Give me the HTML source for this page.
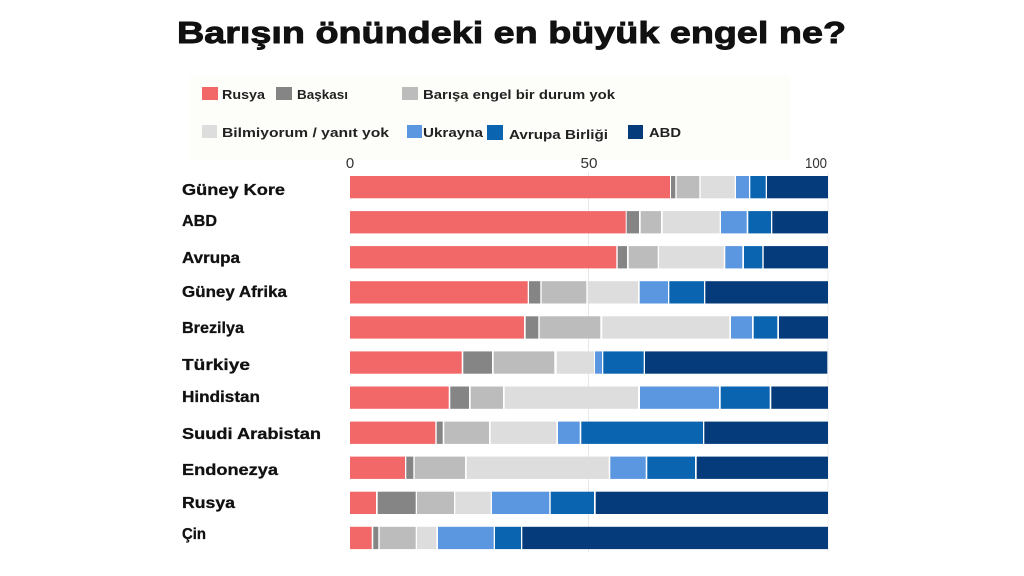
<!DOCTYPE html>
<html><head><meta charset="utf-8"><style>
html,body{margin:0;padding:0;background:#fff;}
svg{display:block;}
text{font-family:"Liberation Sans",sans-serif;}
</style></head><body>
<svg width="1024" height="576" viewBox="0 0 1024 576" xmlns="http://www.w3.org/2000/svg">
<rect width="1024" height="576" fill="#fff"/>
<rect x="190" y="76" width="600" height="84" fill="#fdfdfa"/>
<text x="177" y="43" font-size="31" font-weight="bold" fill="#111" stroke="#111" stroke-width="0.9" textLength="669" lengthAdjust="spacingAndGlyphs">Barışın önündeki en büyük engel ne?</text>
<!-- legend -->
<g font-size="13" font-weight="bold" fill="#222">
<rect x="202" y="87" width="16" height="13" fill="#f26868"/><text x="222" y="99" textLength="43" lengthAdjust="spacingAndGlyphs">Rusya</text>
<rect x="276" y="87" width="16" height="13" fill="#858585"/><text x="297" y="99" textLength="51" lengthAdjust="spacingAndGlyphs">Başkası</text>
<rect x="402" y="87" width="16" height="13" fill="#bcbcbc"/><text x="423" y="99" textLength="192" lengthAdjust="spacingAndGlyphs">Barışa engel bir durum yok</text>
<rect x="202" y="125" width="15" height="13" fill="#dddddd"/><text x="222" y="137" textLength="167" lengthAdjust="spacingAndGlyphs">Bilmiyorum / yanıt yok</text>
<rect x="407" y="125" width="15" height="13" fill="#5b97e1"/><text x="423" y="137" textLength="60" lengthAdjust="spacingAndGlyphs">Ukrayna</text>
<rect x="487" y="125" width="16" height="15" fill="#0b64b0"/><text x="509" y="139" textLength="99" lengthAdjust="spacingAndGlyphs">Avrupa Birliği</text>
<rect x="628" y="125" width="15" height="14" fill="#053b7a"/><text x="649" y="137" textLength="32" lengthAdjust="spacingAndGlyphs">ABD</text>
</g>
<!-- axis ticks -->
<g font-size="15" fill="#333">
<text x="350" y="168" text-anchor="middle">0</text>
<text x="589" y="168" text-anchor="middle" textLength="17" lengthAdjust="spacingAndGlyphs">50</text>
<text x="805" y="168" textLength="22" lengthAdjust="spacingAndGlyphs">100</text>
</g>
<!-- grid -->
<line x1="588.5" y1="172" x2="588.5" y2="552" stroke="#e8e8e8" stroke-width="1"/>
<line x1="828" y1="172" x2="828" y2="552" stroke="#eeeeee" stroke-width="1"/>
<!-- country labels -->
<g font-size="16" font-weight="bold" fill="#111" stroke="#111" stroke-width="0.3">
<text x="182" y="195" textLength="103" lengthAdjust="spacingAndGlyphs">Güney Kore</text>
<text x="182" y="226" textLength="35" lengthAdjust="spacingAndGlyphs">ABD</text>
<text x="182" y="263" textLength="58" lengthAdjust="spacingAndGlyphs">Avrupa</text>
<text x="182" y="297" textLength="105" lengthAdjust="spacingAndGlyphs">Güney Afrika</text>
<text x="182" y="333" textLength="62" lengthAdjust="spacingAndGlyphs">Brezilya</text>
<text x="182" y="370" textLength="68" lengthAdjust="spacingAndGlyphs">Türkiye</text>
<text x="182" y="402" textLength="78" lengthAdjust="spacingAndGlyphs">Hindistan</text>
<text x="182" y="439" textLength="139" lengthAdjust="spacingAndGlyphs">Suudi Arabistan</text>
<text x="182" y="475" textLength="96" lengthAdjust="spacingAndGlyphs">Endonezya</text>
<text x="182" y="508" textLength="53" lengthAdjust="spacingAndGlyphs">Rusya</text>
<text x="182" y="539" textLength="24" lengthAdjust="spacingAndGlyphs">Çin</text>
</g>
<!-- bars -->
<g>
<!-- Güney Kore -->
<rect x="350" y="176" width="320" height="22.3" fill="#f26868"/>
<rect x="671" y="176" width="4.3" height="22.3" fill="#858585"/>
<rect x="676.7" y="176" width="22.6" height="22.3" fill="#bcbcbc"/>
<rect x="700.7" y="176" width="34" height="22.3" fill="#dddddd"/>
<rect x="736" y="176" width="13" height="22.3" fill="#5b97e1"/>
<rect x="750.3" y="176" width="15.4" height="22.3" fill="#0b64b0"/>
<rect x="767" y="176" width="61" height="22.3" fill="#053b7a"/>
<!-- ABD -->
<rect x="350" y="211.1" width="275.7" height="22.3" fill="#f26868"/>
<rect x="626.7" y="211.1" width="12.3" height="22.3" fill="#858585"/>
<rect x="640.7" y="211.1" width="20.3" height="22.3" fill="#bcbcbc"/>
<rect x="662.7" y="211.1" width="57" height="22.3" fill="#dddddd"/>
<rect x="721" y="211.1" width="25.7" height="22.3" fill="#5b97e1"/>
<rect x="748.3" y="211.1" width="22.7" height="22.3" fill="#0b64b0"/>
<rect x="772.3" y="211.1" width="55.7" height="22.3" fill="#053b7a"/>
<!-- Avrupa -->
<rect x="350" y="246.1" width="266.3" height="22.3" fill="#f26868"/>
<rect x="617.7" y="246.1" width="9.3" height="22.3" fill="#858585"/>
<rect x="628.7" y="246.1" width="29" height="22.3" fill="#bcbcbc"/>
<rect x="659" y="246.1" width="64.7" height="22.3" fill="#dddddd"/>
<rect x="725.3" y="246.1" width="17" height="22.3" fill="#5b97e1"/>
<rect x="744" y="246.1" width="18.3" height="22.3" fill="#0b64b0"/>
<rect x="763.7" y="246.1" width="64.3" height="22.3" fill="#053b7a"/>
<!-- Güney Afrika -->
<rect x="350" y="281.2" width="177.7" height="22.3" fill="#f26868"/>
<rect x="529" y="281.2" width="11.3" height="22.3" fill="#858585"/>
<rect x="541.7" y="281.2" width="44.6" height="22.3" fill="#bcbcbc"/>
<rect x="587.7" y="281.2" width="50.3" height="22.3" fill="#dddddd"/>
<rect x="639.7" y="281.2" width="28.3" height="22.3" fill="#5b97e1"/>
<rect x="669.3" y="281.2" width="34.7" height="22.3" fill="#0b64b0"/>
<rect x="705.3" y="281.2" width="122.7" height="22.3" fill="#053b7a"/>
<!-- Brezilya -->
<rect x="350" y="316.3" width="174" height="22.3" fill="#f26868"/>
<rect x="525.7" y="316.3" width="12.6" height="22.3" fill="#858585"/>
<rect x="539.7" y="316.3" width="60.6" height="22.3" fill="#bcbcbc"/>
<rect x="602.3" y="316.3" width="127" height="22.3" fill="#dddddd"/>
<rect x="731" y="316.3" width="21" height="22.3" fill="#5b97e1"/>
<rect x="753.7" y="316.3" width="23.6" height="22.3" fill="#0b64b0"/>
<rect x="779" y="316.3" width="49" height="22.3" fill="#053b7a"/>
<!-- Türkiye -->
<rect x="350" y="351.4" width="111.7" height="22.3" fill="#f26868"/>
<rect x="463.3" y="351.4" width="28.7" height="22.3" fill="#858585"/>
<rect x="493.7" y="351.4" width="60.6" height="22.3" fill="#bcbcbc"/>
<rect x="556.7" y="351.4" width="37.3" height="22.3" fill="#dddddd"/>
<rect x="595" y="351.4" width="7" height="22.3" fill="#5b97e1"/>
<rect x="603.3" y="351.4" width="40.4" height="22.3" fill="#0b64b0"/>
<rect x="645" y="351.4" width="182.3" height="22.3" fill="#053b7a"/>
<!-- Hindistan -->
<rect x="350" y="386.5" width="98.7" height="22.3" fill="#f26868"/>
<rect x="450.3" y="386.5" width="18.7" height="22.3" fill="#858585"/>
<rect x="470.7" y="386.5" width="32.3" height="22.3" fill="#bcbcbc"/>
<rect x="504.7" y="386.5" width="133.3" height="22.3" fill="#dddddd"/>
<rect x="640" y="386.5" width="79" height="22.3" fill="#5b97e1"/>
<rect x="720.7" y="386.5" width="49" height="22.3" fill="#0b64b0"/>
<rect x="771.3" y="386.5" width="56.7" height="22.3" fill="#053b7a"/>
<!-- Suudi Arabistan -->
<rect x="350" y="421.6" width="85.3" height="22.3" fill="#f26868"/>
<rect x="436.7" y="421.6" width="6" height="22.3" fill="#858585"/>
<rect x="444.3" y="421.6" width="44.7" height="22.3" fill="#bcbcbc"/>
<rect x="490.7" y="421.6" width="65.6" height="22.3" fill="#dddddd"/>
<rect x="558" y="421.6" width="21.7" height="22.3" fill="#5b97e1"/>
<rect x="581.3" y="421.6" width="121.7" height="22.3" fill="#0b64b0"/>
<rect x="704.3" y="421.6" width="123.7" height="22.3" fill="#053b7a"/>
<!-- Endonezya -->
<rect x="350" y="456.6" width="55" height="22.3" fill="#f26868"/>
<rect x="406.3" y="456.6" width="7" height="22.3" fill="#858585"/>
<rect x="414.7" y="456.6" width="50.3" height="22.3" fill="#bcbcbc"/>
<rect x="466.7" y="456.6" width="142" height="22.3" fill="#dddddd"/>
<rect x="610.3" y="456.6" width="35.4" height="22.3" fill="#5b97e1"/>
<rect x="647.3" y="456.6" width="47.7" height="22.3" fill="#0b64b0"/>
<rect x="696.7" y="456.6" width="131.3" height="22.3" fill="#053b7a"/>
<!-- Rusya -->
<rect x="350" y="491.7" width="26" height="22.3" fill="#f26868"/>
<rect x="377.7" y="491.7" width="38" height="22.3" fill="#858585"/>
<rect x="417" y="491.7" width="37" height="22.3" fill="#bcbcbc"/>
<rect x="455.3" y="491.7" width="35.4" height="22.3" fill="#dddddd"/>
<rect x="492" y="491.7" width="57.3" height="22.3" fill="#5b97e1"/>
<rect x="550.7" y="491.7" width="43.3" height="22.3" fill="#0b64b0"/>
<rect x="595.7" y="491.7" width="232.3" height="22.3" fill="#053b7a"/>
<!-- Çin -->
<rect x="350" y="526.8" width="21.7" height="22.3" fill="#f26868"/>
<rect x="373.3" y="526.8" width="5" height="22.3" fill="#858585"/>
<rect x="379.7" y="526.8" width="36" height="22.3" fill="#bcbcbc"/>
<rect x="417" y="526.8" width="19.3" height="22.3" fill="#dddddd"/>
<rect x="438" y="526.8" width="55.7" height="22.3" fill="#5b97e1"/>
<rect x="495" y="526.8" width="26" height="22.3" fill="#0b64b0"/>
<rect x="522.3" y="526.8" width="305.7" height="22.3" fill="#053b7a"/>
</g>
</svg>
</body></html>
